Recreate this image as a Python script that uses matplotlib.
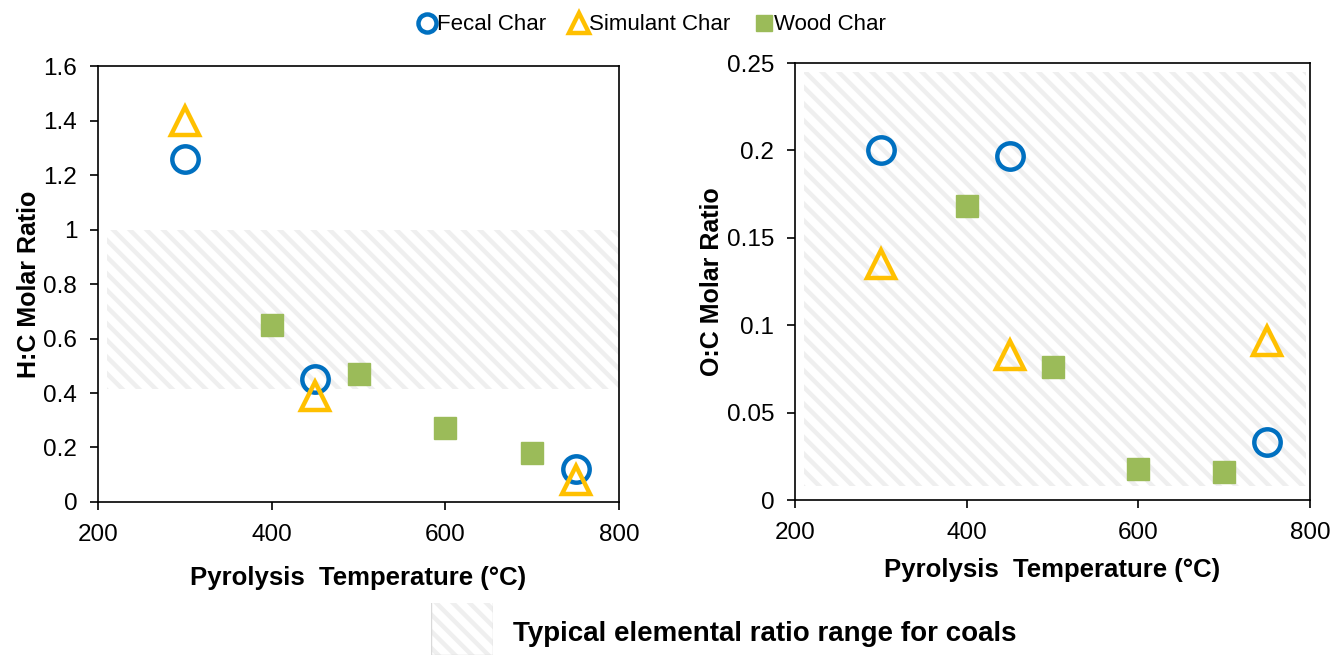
import matplotlib.pyplot as plt
from matplotlib.patches import Rectangle
from matplotlib.lines import Line2D
from matplotlib.ticker import FuncFormatter

plt.rcParams["font.family"] = ["Liberation Sans", "DejaVu Sans"]
plt.rcParams["hatch.linewidth"] = 3.2

BLUE = "#0070C0"
ORANGE = "#FFC000"
GREEN = "#9BBB59"
HATCH = "#EFEFEF"

# H:C molar ratio
fecal_t = [300, 450, 750]
fecal_hc = [1.26, 0.45, 0.12]
sim_t = [300, 450, 750]
sim_hc = [1.40, 0.39, 0.08]
wood_t = [400, 500, 600, 700]
wood_hc = [0.65, 0.47, 0.27, 0.18]

# O:C molar ratio
fecal_oc = [0.200, 0.197, 0.033]
sim_oc = [0.135, 0.083, 0.091]
wood_oc = [0.168, 0.076, 0.018, 0.016]

# typical coal range (x0, x1, y0, y1)
coal_hc = (210, 800, 0.415, 1.0)
coal_oc = (210, 795, 0.008, 0.245)


def fmt(v, pos):
    return "%g" % round(v, 3)


def draw_panel(ax, fecal_y, sim_y, wood_y, coal, ylim, yticks, ylabel, xpad, ypad):
    x0, x1, y0, y1 = coal
    ax.add_patch(Rectangle((x0, y0), x1 - x0, y1 - y0, facecolor="white",
                           edgecolor=HATCH, hatch="\\\\", linewidth=0, zorder=0))

    ax.plot(fecal_t, fecal_y, "o", ms=19, mfc="none", mec=BLUE, mew=3.2, zorder=3)
    ax.plot(sim_t, sim_y, "^", ms=20, mfc="none", mec=ORANGE, mew=3.2, zorder=4)
    ax.plot(wood_t, wood_y, "s", ms=16.5, mfc=GREEN, mec=GREEN, zorder=3)

    ax.set_xlim(200, 800)
    ax.set_xticks([200, 400, 600, 800])
    ax.set_ylim(*ylim)
    ax.set_yticks(yticks)
    ax.yaxis.set_major_formatter(FuncFormatter(fmt))

    for s in ax.spines.values():
        s.set_linewidth(1.2)
    ax.tick_params(direction="out", length=6, width=1.2, labelsize=17.5)
    ax.tick_params(axis="x", pad=10)
    ax.tick_params(axis="y", pad=9)
    ax.set_xlabel("Pyrolysis  Temperature (\u00b0C)", fontsize=18.5, fontweight="bold", labelpad=xpad)
    ax.set_ylabel(ylabel, fontsize=18, fontweight="bold", labelpad=ypad)


fig = plt.figure(figsize=(13.35, 6.55), dpi=100)
ax1 = fig.add_axes([0.0734, 0.2336, 0.3903, 0.6656])
ax2 = fig.add_axes([0.5955, 0.2366, 0.3858, 0.6672])

draw_panel(ax1, fecal_hc, sim_hc, wood_hc, coal_hc, (0, 1.6),
           [0, 0.2, 0.4, 0.6, 0.8, 1.0, 1.2, 1.4, 1.6], "H:C Molar Ratio", 14, 2)
draw_panel(ax2, fecal_oc, sim_oc, wood_oc, coal_oc, (0, 0.25),
           [0, 0.05, 0.1, 0.15, 0.2, 0.25], "O:C Molar Ratio", 10, 2)

handles = [
    Line2D([], [], ls="none", marker="o", ms=13, mfc="none", mec=BLUE, mew=3.2),
    Line2D([], [], ls="none", marker="^", ms=14, mfc="none", mec=ORANGE, mew=3.2),
    Line2D([], [], ls="none", marker="s", ms=12, mfc=GREEN, mec=GREEN),
]
fig.legend(handles, ["Fecal Char", "Simulant Char", "Wood Char"], loc="center",
           bbox_to_anchor=(0.489, 0.962), ncol=3, frameon=False, fontsize=16,
           handlelength=0.6, handletextpad=0.15, columnspacing=1.2)

# bottom legend for hatched range
box = fig.add_axes([0.323, 0.0, 0.046, 0.08])
box.add_patch(Rectangle((0, 0), 1, 1.2, facecolor="white", edgecolor=HATCH,
                        hatch="\\\\", linewidth=0))
box.add_patch(Rectangle((0, 0), 1, 1.2, fill=False, edgecolor="#D9D9D9", linewidth=1))
box.set_xlim(0, 1)
box.set_ylim(0, 1)
box.axis("off")
fig.text(0.384, 0.032, "Typical elemental ratio range for coals", fontsize=20,
         fontweight="bold", va="center", ha="left")

fig.savefig("out.png", dpi=100)
